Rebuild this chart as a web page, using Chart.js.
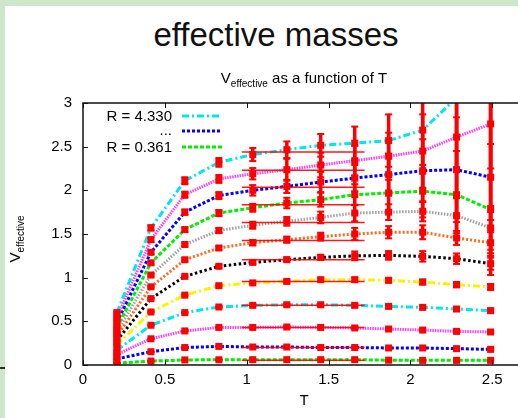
<!DOCTYPE html>
<html>
<head>
<meta charset="utf-8">
<title>effective masses</title>
<script src="https://cdn.jsdelivr.net/npm/chart.js@4/dist/chart.umd.min.js"></script>
<style>
  html, body { margin: 0; padding: 0; }
  body { width: 518px; height: 418px; overflow: hidden; position: relative; background: #cee7cc; }
  #panel { position: absolute; left: 5px; top: 6px; right: 0; bottom: 0; background: #fff; }
  #mark { position: absolute; left: 0; top: 367px; width: 5px; height: 2px; background: #2b2b2b; }
  #pagetitle {
    position: absolute; left: 0; top: 18px; width: 552px; margin: 0;
    text-align: center; font: normal 33px/33px "Liberation Sans", Arial, sans-serif; color: #111;
  }
  #chart { position: absolute; left: 0; top: 0; }
</style>
</head>
<body>
<div id="panel"></div>
<div id="mark"></div>
<h1 id="pagetitle">effective masses</h1>
<canvas id="chart" width="540" height="418"></canvas>
<script>
// Euclidean time values of the data points
const T = [0.207, 0.415, 0.622, 0.83, 1.037, 1.245, 1.452, 1.66, 1.867, 2.075, 2.282, 2.49];

// V_effective per separation R (01 = R = 4.330 on top ... 12 = R = 0.361 at the bottom)
const veff01 = [0.60, 1.57, 2.11, 2.32, 2.41, 2.465, 2.515, 2.54, 2.57, 2.69, 3.06, 3.45];
const veff02 = [0.54, 1.435, 1.95, 2.13, 2.19, 2.236, 2.29, 2.34, 2.39, 2.45, 2.61, 2.76];
const veff03 = [0.49, 1.29, 1.75, 1.94, 2.0, 2.045, 2.095, 2.14, 2.18, 2.225, 2.236, 2.15];
const veff04 = [0.43, 1.17, 1.55, 1.74, 1.80, 1.855, 1.893, 1.95, 1.97, 1.99, 1.95, 1.78];
const veff05 = [0.38, 1.03, 1.38, 1.54, 1.60, 1.645, 1.69, 1.74, 1.75, 1.76, 1.71, 1.57];
const veff06 = [0.33, 0.895, 1.205, 1.34, 1.40, 1.435, 1.47, 1.50, 1.52, 1.52, 1.455, 1.40];
const veff07 = [0.28, 0.76, 1.015, 1.13, 1.175, 1.206, 1.232, 1.25, 1.255, 1.244, 1.217, 1.16];
const veff08 = [0.23, 0.607, 0.80, 0.908, 0.94, 0.957, 0.977, 0.977, 0.97, 0.95, 0.92, 0.893];
const veff09 = [0.17, 0.455, 0.60, 0.664, 0.683, 0.69, 0.69, 0.683, 0.671, 0.66, 0.641, 0.622];
const veff10 = [0.12, 0.30, 0.39, 0.43, 0.43, 0.435, 0.43, 0.424, 0.412, 0.40, 0.385, 0.378];
const veff11 = [0.07, 0.152, 0.20, 0.213, 0.206, 0.206, 0.20, 0.20, 0.195, 0.195, 0.187, 0.179];
const veff12 = [0.02, 0.045, 0.058, 0.06, 0.061, 0.061, 0.061, 0.061, 0.055, 0.053, 0.053, 0.053];

// error bars (half widths)
const err01 = [0.01, 0.03, 0.04, 0.05, 0.075, 0.095, 0.13, 0.19, 0.30, 0.5, 0.8, 1.2];
const err02 = [0.01, 0.025, 0.035, 0.045, 0.065, 0.125, 0.14, 0.17, 0.27, 0.42, 0.7, 1.1];
const err03 = [0.01, 0.02, 0.03, 0.04, 0.06, 0.075, 0.115, 0.15, 0.24, 0.36, 0.6, 0.9];
const err04 = [0.008, 0.018, 0.025, 0.035, 0.045, 0.06, 0.08, 0.12, 0.2, 0.3, 0.5, 0.75];
const err05 = [0.006, 0.014, 0.02, 0.03, 0.04, 0.05, 0.067, 0.095, 0.09, 0.115, 0.2, 0.25];
const err06 = [0.005, 0.01, 0.015, 0.02, 0.03, 0.035, 0.045, 0.07, 0.07, 0.08, 0.08, 0.12];
const err07 = [0.004, 0.008, 0.01, 0.015, 0.02, 0.025, 0.03, 0.05, 0.05, 0.06, 0.06, 0.07];
const err08 = [0.003, 0.005, 0.008, 0.01, 0.012, 0.015, 0.018, 0.022, 0.025, 0.028, 0.03, 0.035];
const err09 = [0.002, 0.004, 0.006, 0.008, 0.01, 0.012, 0.014, 0.016, 0.018, 0.02, 0.022, 0.025];
const err10 = [0.002, 0.003, 0.004, 0.005, 0.006, 0.007, 0.008, 0.009, 0.01, 0.011, 0.012, 0.013];
const err11 = [0.001, 0.002, 0.003, 0.003, 0.004, 0.004, 0.005, 0.005, 0.006, 0.006, 0.007, 0.008];
const err12 = [0.001, 0.001, 0.002, 0.002, 0.002, 0.003, 0.003, 0.003, 0.003, 0.004, 0.004, 0.004];

// constant fits over the plateau
const fitValues = [2.44, 2.23, 2.035, 1.836, 1.633, 1.427, 1.206, 0.957, 0.683, 0.43, 0.20, 0.055];
const fitRange = [0.97, 1.72];

// legend entries
const legendLabels = ["R = 4.330", "...", "R = 0.361"];

const seriesValues = [veff01, veff02, veff03, veff04, veff05, veff06, veff07, veff08, veff09, veff10, veff11, veff12];
const seriesErrors = [err01, err02, err03, err04, err05, err06, err07, err08, err09, err10, err11, err12];

// gnuplot png line types
const dashDot = [7, 3, 2, 3];
const lineStyles = [
    { color: "#00e5ee", dash: dashDot },
    { color: "#ff40ff", dash: [1.5, 1] },
    { color: "#0000ff", dash: [3, 2] },
    { color: "#00ee00", dash: [4, 2] },
    { color: "#a0a0a0", dash: [1.5, 1.5] },
    { color: "#ff6a1a", dash: [2, 2] },
    { color: "#000000", dash: [2.5, 2.5] },
    { color: "#f5f500", dash: dashDot },
    { color: "#00e5ee", dash: dashDot },
    { color: "#ff40ff", dash: [1.5, 1] },
    { color: "#0000ff", dash: [3, 2] },
    { color: "#00ee00", dash: [4, 2] },
];

const FONT = "'Liberation Sans', Arial, Helvetica, sans-serif";
Chart.defaults.font.family = FONT;
Chart.defaults.font.size = 15;
Chart.defaults.color = "#000";

// gnuplot style numbers: 0, 0.5, 1, 1.5 ...
const plainNumber = (v) => String(Math.round(v * 100) / 100);

const fitDatasets = fitValues.map((v) => ({
    label: "fit",
    data: fitRange.map((t) => ({ x: t, y: v })),
    borderColor: "rgba(255,0,0,0.9)",
    borderWidth: 1.5,
    pointRadius: 0,
}));

const lineDatasets = seriesValues.map((vals, s) => ({
    label: "series " + (s + 1),
    data: vals.map((v, i) => ({ x: T[i], y: v })),
    borderColor: lineStyles[s].color,
    borderDash: lineStyles[s].dash,
    borderWidth: 3,
    borderCapStyle: "butt",
    pointRadius: 0,
    tension: 0,
}));

function seg(ctx, x1, y1, x2, y2) {
    ctx.beginPath();
    ctx.moveTo(x1, y1);
    ctx.lineTo(x2, y2);
    ctx.stroke();
}

// error bars, points, frame, legend and texts, gnuplot-like
const gnuplotDecor = {
    id: "gnuplotDecor",
    afterDatasetsDraw(chart) {
        const { ctx, chartArea: a, scales } = chart;
        const x = scales.x;
        const y = scales.y;
        ctx.save();
        ctx.beginPath();
        ctx.rect(a.left, a.top, a.right - a.left, a.bottom - a.top);
        ctx.clip();
        ctx.strokeStyle = "#ff0000";
        ctx.fillStyle = "#ff0000";
        ctx.setLineDash([]);
        seriesValues.forEach((vals, s) => {
            const errs = seriesErrors[s];
            vals.forEach((v, i) => {
                const px = x.getPixelForValue(T[i]);
                const py = y.getPixelForValue(v);
                const hi = y.getPixelForValue(v + errs[i]);
                const lo = y.getPixelForValue(v - errs[i]);
                ctx.lineWidth = 3.5;
                seg(ctx, px, hi, px, lo);
                ctx.lineWidth = 2;
                seg(ctx, px - 3.5, hi, px + 3.5, hi);
                seg(ctx, px - 3.5, lo, px + 3.5, lo);
                ctx.fillRect(px - 3.5, py - 3.5, 7, 7);
            });
        });
        ctx.restore();

        // frame with inward ticks
        ctx.save();
        ctx.strokeStyle = "#111";
        ctx.lineWidth = 1.5;
        ctx.strokeRect(a.left, a.top, a.right - a.left, a.bottom - a.top);
        ctx.lineWidth = 1;
        x.ticks.forEach((t) => {
            const px = Math.round(x.getPixelForValue(t.value)) + 0.5;
            seg(ctx, px, a.bottom, px, a.bottom - 5);
            seg(ctx, px, a.top, px, a.top + 5);
        });
        y.ticks.forEach((t) => {
            const py = Math.round(y.getPixelForValue(t.value)) + 0.5;
            seg(ctx, a.left, py, a.left + 5, py);
            seg(ctx, a.right, py, a.right - 5, py);
        });
        ctx.restore();
    },
    afterDraw(chart) {
        const { ctx, chartArea: a } = chart;
        ctx.save();
        ctx.fillStyle = "#000";
        ctx.textBaseline = "alphabetic";

        // legend: text then line sample
        const legendStyles = [lineStyles[0], lineStyles[2], lineStyles[11]];
        const rows = [116, 131, 147];
        ctx.font = "15px " + FONT;
        ctx.textAlign = "right";
        legendLabels.forEach((label, k) => {
            ctx.fillStyle = "#000";
            ctx.fillText(label, 172, rows[k] + (k === 1 ? 4 : 5));
            ctx.strokeStyle = legendStyles[k].color;
            ctx.setLineDash(legendStyles[k].dash);
            ctx.lineWidth = 3;
            seg(ctx, 182, rows[k], 222, rows[k]);
        });
        ctx.setLineDash([]);

        // plot title with subscript
        const mainF = "15px " + FONT;
        const subF = "10px " + FONT;
        ctx.textAlign = "left";
        ctx.font = mainF;
        const wV = ctx.measureText("V").width;
        const wRest = ctx.measureText(" as a function of T").width;
        ctx.font = subF;
        const wSub = ctx.measureText("effective").width;
        const total = wV + wSub + wRest;
        const sx = (a.left + a.right) / 2 - total / 2;
        const base = 83;
        ctx.font = mainF;
        ctx.fillText("V", sx, base);
        ctx.font = subF;
        ctx.fillText("effective", sx + wV, base + 4);
        ctx.font = mainF;
        ctx.fillText(" as a function of T", sx + wV + wSub, base);

        // y axis title, rotated
        ctx.translate(20, (a.top + a.bottom) / 2 + 5);
        ctx.rotate(-Math.PI / 2);
        const ty = wV + wSub;
        ctx.font = mainF;
        ctx.fillText("V", -ty / 2, 0);
        ctx.font = subF;
        ctx.fillText("effective", -ty / 2 + wV, 4);
        ctx.restore();
    },
};

new Chart(document.getElementById("chart"), {
    type: "line",
    data: { datasets: [...fitDatasets, ...lineDatasets] },
    options: {
        responsive: false,
        devicePixelRatio: 1,
        animation: false,
        events: [],
        layout: { padding: { top: 103, right: 15, bottom: 0, left: 0 } },
        plugins: { legend: { display: false }, tooltip: { enabled: false } },
        scales: {
            x: {
                type: "linear",
                min: 0,
                max: 2.7,
                grid: { display: false, drawTicks: false },
                border: { display: false },
                ticks: { stepSize: 0.5, padding: 6, maxRotation: 0, autoSkip: false, includeBounds: false, callback: plainNumber },
                afterFit: (s) => { s.height = 53; },
                title: { display: true, text: "T", padding: { top: 0, bottom: 8 } },
            },
            y: {
                min: 0,
                max: 3,
                grid: { display: false, drawTicks: false },
                border: { display: false },
                ticks: { stepSize: 0.5, padding: 11, callback: plainNumber },
                afterFit: (s) => { s.width = 83; },
            },
        },
    },
    plugins: [gnuplotDecor],
});
</script>
</body>
</html>
